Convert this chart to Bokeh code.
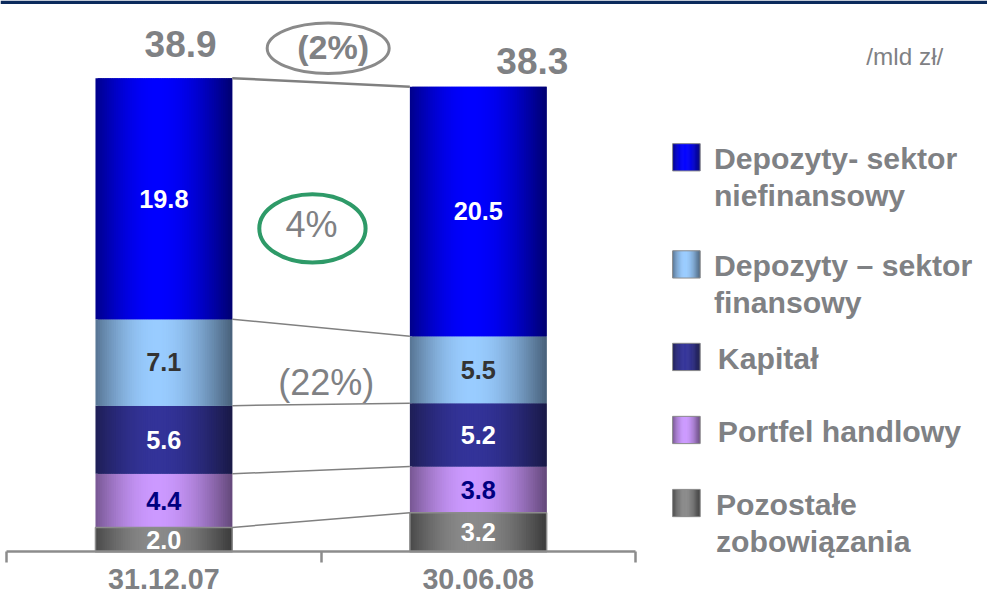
import numpy as np
from bokeh.plotting import figure
from bokeh.models import Range1d, LinearAxis, FixedTicker, ColumnDataSource
from bokeh.core.properties import value
from bokeh.embed import file_html
from bokeh.resources import INLINE

# ---------------- data ----------------
categories = ["31.12.07", "30.06.08"]
pozostale = [2.0, 3.2]
portfel = [4.4, 3.8]
kapital = [5.6, 5.2]
dep_fin = [7.1, 5.5]
dep_niefin = [19.8, 20.5]
totals = [38.9, 38.3]
change_texts = ["(2%)", "4%", "(22%)"]
unit_text = "/mld zł/"
legend_labels = ["Depozyty- sektor\nniefinansowy",
                 "Depozyty – sektor\nfinansowy",
                 "Kapitał",
                 "Portfel handlowy",
                 "Pozostałe\nzobowiązania"]

# stacked bottom -> top
stack = [pozostale, portfel, kapital, dep_fin, dep_niefin]
legend_series = [4, 3, 2, 1, 0]   # legend order (top -> bottom) as stack indices

# ---------------- styles ----------------
EDGE = [(58, 58, 58), (100, 72, 122), (25, 25, 70), (72, 96, 122), (0, 0, 112)]
CENTER = [(138, 138, 138), (204, 153, 255), (51, 51, 153), (153, 204, 255), (0, 0, 255)]
LABEL_COLORS = ["white", "#000080", "white", "#333333", "white"]
GRAY = "#7f8184"
LINE_GRAY = "#808080"
FONT = value("Liberation Sans")

W, H = 987, 597          # figure size
RW, RH = 1003, 613       # reference canvas the layout is expressed in
BASE = 566               # reference row of value 0
PPU_Y = 12.5             # reference pixels per unit (y)
X0 = 166                 # reference column of category 0
PPU_X = 319.5            # reference pixels per category
BAR_W = 0.435
N = 60                   # gradient strips
SX, SY = W / RW, H / RH  # screen scale


def fs(px):
    return value(f"{px * SY:.1f}px")


p = figure(width=W, height=H, output_backend="svg", toolbar_location=None,
           x_range=Range1d(-X0 / PPU_X, (RW - X0) / PPU_X),
           y_range=Range1d(-(RH - BASE) / PPU_Y, BASE / PPU_Y),
           x_axis_type=None, y_axis_type=None, min_border=0,
           outline_line_color=None, background_fill_color="white",
           border_fill_color="white")
# reference-pixel coordinate system for annotations / legend
p.extra_x_ranges = {"px": Range1d(0, RW)}
p.extra_y_ranges = {"px": Range1d(RH, 0)}


def profile(n, t0=0.45):
    out = []
    for j in range(n):
        t = (j + 0.5) / n
        if t < t0:
            f = np.cos(np.pi / 2 * (t0 - t) / t0 * 0.88)
        else:
            f = np.cos(np.pi / 2 * (t - t0) / (1 - t0))
        out.append(f)
    return out


PROF = profile(N)


def mix(e, c, f):
    return "#%02x%02x%02x" % tuple(int(round(a + (b - a) * f)) for a, b in zip(e, c))


# ---------------- bars ----------------
xs = np.arange(len(categories), dtype=float)
bottoms = np.zeros(len(categories))
strip = dict(left=[], right=[], bottom=[], top=[], color=[])
lab = dict(x=[], y=[], text=[], color=[])
cums = []
for k, vals in enumerate(stack):
    vals = np.array(vals, dtype=float)
    for i in range(len(categories)):
        l0 = xs[i] - BAR_W / 2
        for j in range(N):
            l = l0 + j * BAR_W / N
            r = min(l + 2.0 * BAR_W / N, xs[i] + BAR_W / 2)
            strip["left"].append(l)
            strip["right"].append(r)
            strip["bottom"].append(bottoms[i])
            strip["top"].append(bottoms[i] + vals[i])
            strip["color"].append(mix(EDGE[k], CENTER[k], PROF[j]))
        lab["x"].append(xs[i])
        lab["y"].append(bottoms[i] + vals[i] / 2)
        lab["text"].append(f"{vals[i]:.1f}")
        lab["color"].append(LABEL_COLORS[k])
    bottoms = bottoms + vals
    cums.append(bottoms.copy())

p.quad(source=ColumnDataSource(strip), left="left", right="right",
       bottom="bottom", top="top", fill_color="color", line_color=None)
# outline of the bottom series
p.quad(left=list(xs - BAR_W / 2), right=list(xs + BAR_W / 2), bottom=[0, 0],
       top=pozostale, fill_color=None, line_color="#8c8c8c", line_width=1.5)

# connectors between the bars
p.segment(x0=[xs[0] + BAR_W / 2] * len(cums), y0=[c[0] for c in cums],
          x1=[xs[1] - BAR_W / 2] * len(cums), y1=[c[1] for c in cums],
          line_color=LINE_GRAY, line_width=[1.5] * (len(cums) - 1) + [2.5])

# value labels
p.text(source=ColumnDataSource(lab), x="x", y="y", text="text", text_color="color",
       text_align="center", text_baseline="middle", text_font=FONT,
       text_font_style="bold", text_font_size=fs(26))

# totals
p.text(x=list(xs), y=list(cums[-1]), text=[f"{t:.1f}" for t in totals],
       x_offset=[17 * SX, 55 * SX], y_offset=[-35 * SY, -26 * SY], text_color=GRAY,
       text_align="center", text_baseline="middle", text_font=FONT,
       text_font_style="bold", text_font_size=fs(38))

# ---------------- axis ----------------
ax = LinearAxis(fixed_location=0, bounds=(-0.5, 1.5),
                ticker=FixedTicker(ticks=[0, 1], minor_ticks=[-0.5, 0.5, 1.5]),
                major_label_overrides={0: categories[0], 1: categories[1]},
                axis_line_color="#8c8c8c", axis_line_width=2.5,
                major_tick_line_color=None, major_tick_out=0, major_tick_in=0,
                minor_tick_line_color="#8c8c8c", minor_tick_line_width=2.5,
                minor_tick_out=11, minor_tick_in=0,
                major_label_standoff=6,
                major_label_text_font="Liberation Sans",
                major_label_text_font_size=f"{29.5 * SY:.1f}px",
                major_label_text_font_style="bold",
                major_label_text_color=GRAY)
p.add_layout(ax, "below")

# ---------------- annotations (reference pixels) ----------------
PX = dict(x_range_name="px", y_range_name="px")
p.quad(left=[0], right=[RW], top=[0], bottom=[3.5], fill_color="#0b2a5c",
       line_color=None, **PX)
p.ellipse(x=[333], y=[49], width=[124 * SX], height=[52 * SY], width_units="screen",
          height_units="screen", fill_color=None, line_color="#8a8a8a",
          line_width=3, **PX)
p.ellipse(x=[317], y=[234], width=[108 * SX], height=[70 * SY], width_units="screen",
          height_units="screen", fill_color=None, line_color="#2e9a68",
          line_width=4, **PX)
p.text(x=[338], y=[48], text=[change_texts[0]], text_color=GRAY, text_align="center",
       text_baseline="middle", text_font=FONT, text_font_style="bold",
       text_font_size=fs(35), **PX)
p.text(x=[316, 331], y=[230, 392], text=change_texts[1:], text_color=GRAY,
       text_align="center", text_baseline="middle", text_font=FONT,
       text_font_size=fs(37), **PX)
p.text(x=[919], y=[57], text=[unit_text], text_color=GRAY, text_align="center",
       text_baseline="middle", text_font=FONT, text_font_size=fs(25), **PX)

# ---------------- legend (reference pixels) ----------------
LEG_LEFT, LEG_SIZE = 683, 28
LEG_TOPS = [147, 257, 352, 427, 502]
LEG_TEXT_X = [725, 725, 729, 729, 727]
LINE_H = 38
lstrip = dict(left=[], right=[], bottom=[], top=[], color=[])
ltext = dict(x=[], y=[], text=[])
for n, (k, label) in enumerate(zip(legend_series, legend_labels)):
    top = LEG_TOPS[n]
    for j in range(N):
        l = LEG_LEFT + j * LEG_SIZE / N
        r = min(l + 2.0 * LEG_SIZE / N, LEG_LEFT + LEG_SIZE)
        lstrip["left"].append(l)
        lstrip["right"].append(r)
        lstrip["top"].append(top)
        lstrip["bottom"].append(top + LEG_SIZE)
        lstrip["color"].append(mix(EDGE[k], CENTER[k], PROF[j]))
    for li, line in enumerate(label.split("\n")):
        ltext["x"].append(LEG_TEXT_X[n])
        ltext["y"].append(top + LEG_SIZE / 2 + 1.5 + li * LINE_H)
        ltext["text"].append(line)
p.quad(source=ColumnDataSource(lstrip), left="left", right="right", bottom="bottom",
       top="top", fill_color="color", line_color=None, **PX)
p.quad(left=[LEG_LEFT] * 5, right=[LEG_LEFT + LEG_SIZE] * 5, top=LEG_TOPS,
       bottom=[t + LEG_SIZE for t in LEG_TOPS], fill_color=None,
       line_color="#8c8c8c", line_width=1, **PX)
p.text(source=ColumnDataSource(ltext), x="x", y="y", text="text", text_color=GRAY,
       text_align="left", text_baseline="middle", text_font=FONT,
       text_font_style="bold", text_font_size=fs(31), **PX)

open("out.html", "w").write(file_html(p, INLINE))
